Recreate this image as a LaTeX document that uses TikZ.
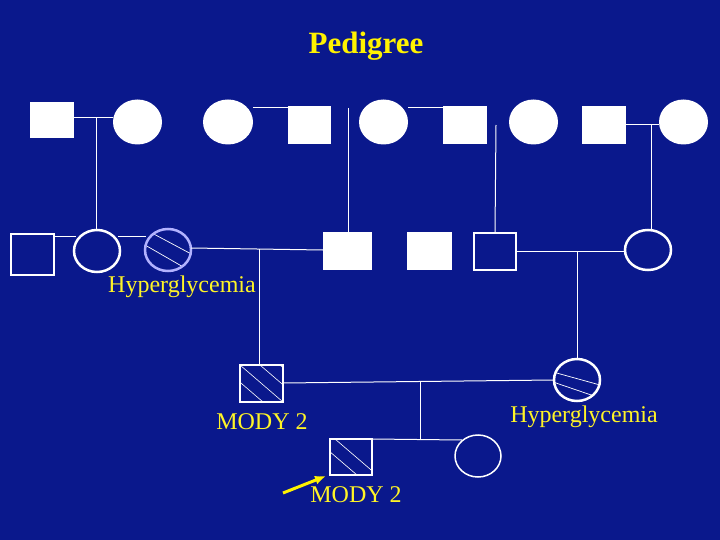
\documentclass[tikz,border=0pt]{standalone}
\usepackage{fontspec}
\setmainfont{Liberation Serif}
\usetikzlibrary{arrows.meta}
\begin{document}
\begin{tikzpicture}[x=1pt,y=-1pt,
  ln/.style={white,line width=1pt},
  osq/.style={draw=white,line width=2.5pt},
  lbl/.style={text=yellow!85!white,font=\fontsize{24}{26}\selectfont,inner sep=0pt}]
\definecolor{bg}{RGB}{10,24,140}
\fill[bg] (0,0) rectangle (720,540);
\useasboundingbox (0,0) rectangle (720,540);
\node[text=yellow,font=\bfseries\fontsize{31}{33}\selectfont] (title) at (366,46) {Pedigree};
% generation I
\fill[white] (30,102) rectangle (74,138);
\fill[white] (137.5,122) ellipse [x radius=24.5, y radius=22.5];
\fill[white] (228,122) ellipse [x radius=25, y radius=22.5];
\fill[white] (288,106) rectangle (331,144);
\fill[white] (383.5,122) ellipse [x radius=24.5, y radius=22.5];
\fill[white] (443,106) rectangle (487,144);
\fill[white] (533.5,122) ellipse [x radius=24.5, y radius=22.5];
\fill[white] (582,106) rectangle (626,144);
\fill[white] (683.5,122) ellipse [x radius=24.5, y radius=22.5];
\draw[ln] (74,118) -- (113,118);
\draw[ln] (253,108) -- (288,108);
\draw[ln] (408,108) -- (443,108);
\draw[ln] (626,125) -- (659,125);
\draw[ln] (96,118) -- (96,230);
\draw[ln] (348,108) -- (348,232);
\draw[ln] (496,125) -- (495,233);
\draw[ln] (651,125) -- (651,230);
% generation II
\draw[osq] (11,234) rectangle (54,275);
\draw[white,line width=2.5pt] (97,251) circle [x radius=23, y radius=21];
\draw[ln] (54,236) -- (76,236);
\draw[ln] (118,236) -- (146,236);
\begin{scope}
\clip (168,250) circle [x radius=23, y radius=21];
\draw[white,line width=0.7pt] (150,232) -- (195,256) (145,245) -- (185,268);
\end{scope}
\draw[blue!30!white,line width=2.5pt] (168,250) circle [x radius=23, y radius=21];
\draw[ln] (191,248) -- (323,250);
\fill[white] (323,232) rectangle (372,270);
\fill[white] (407,232) rectangle (452,270);
\draw[osq] (474,233) rectangle (516,270);
\draw[ln] (516,251) -- (626,251);
\draw[white,line width=2.5pt] (648,250) circle [x radius=23, y radius=20];
\draw[ln] (259,249) -- (259,365);
\draw[ln] (577,251) -- (577,358);
% generation III
\begin{scope}
\clip (240,365) rectangle (283,402);
\foreach \d in {-20,0,20,40} \draw[white,line width=0.6pt] (240+\d,365) -- (283+\d,402);
\end{scope}
\draw[osq] (240,365) rectangle (283,402);
\begin{scope}
\clip (577,380) circle [x radius=23, y radius=21];
\draw[white,line width=0.7pt] (553,372) -- (600,385) (553,382) -- (600,398);
\end{scope}
\draw[white,line width=2.5pt] (577,380) circle [x radius=23, y radius=21];
\draw[ln] (283,383) -- (554,380);
\draw[ln] (420,382) -- (420,439);
\draw[ln] (372,439) -- (462,440);
\begin{scope}
\clip (330,439) rectangle (372,475);
\foreach \d in {-15,5} \draw[white,line width=0.6pt] (330+\d,439) -- (372+\d,475);
\end{scope}
\draw[osq] (330,439) rectangle (372,475);
\draw[white,line width=1.5pt] (478,456) circle [x radius=23, y radius=21];
\node[lbl] (l1) at (182,287) {Hyperglycemia};
\node[lbl] (l2) at (262,422) {MODY 2};
\node[lbl] (l3) at (584,417) {Hyperglycemia};
\node[lbl] (l4) at (356,495) {MODY 2};
\coordinate (as) at (283,493);
\coordinate (ae) at (326,476);
\draw[yellow,line width=3pt,-{Latex[length=11pt,width=9pt]}] (as) -- (ae);
\end{tikzpicture}
\end{document}
